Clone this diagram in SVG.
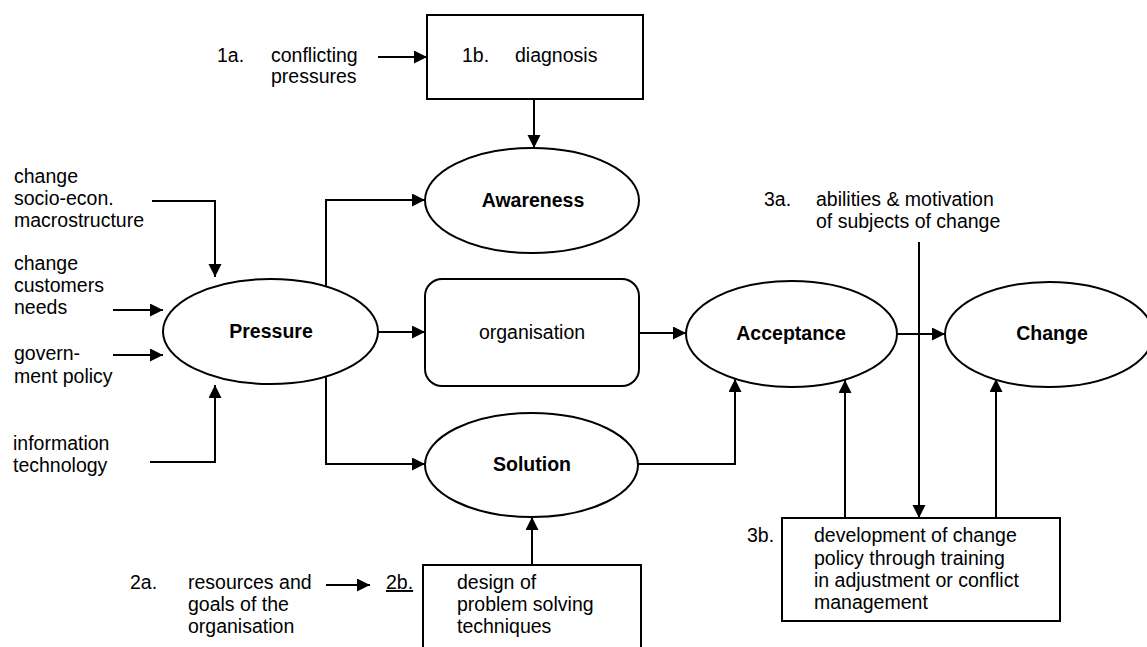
<svg xmlns="http://www.w3.org/2000/svg" width="1147" height="647" viewBox="0 0 1147 647">
  <style>
    text { font-family: "Liberation Sans", Arial, Helvetica, sans-serif; font-size: 19.5px; fill: #000; }
    .b { font-weight: bold; }
    .m { text-anchor: middle; }
    .shape { fill: #fff; stroke: #000; stroke-width: 2; }
    .conn { fill: none; stroke: #000; stroke-width: 2; }
    .arr { marker-end: url(#ah); }
  </style>
  <defs>
    <marker id="ah" markerUnits="userSpaceOnUse" markerWidth="14" markerHeight="14" refX="13" refY="6.5" orient="auto">
      <path d="M0,0 L13,6.5 L0,13 Z" fill="#000"/>
    </marker>
  </defs>
  <rect width="1147" height="647" fill="#fff"/>

  <g id="connectors">
    <line class="conn arr" x1="378" y1="57" x2="427" y2="57"/>
    <line class="conn arr" x1="534" y1="99" x2="534" y2="148"/>
    <polyline class="conn arr" points="152,201 215,201 215,277"/>
    <line class="conn arr" x1="113" y1="310" x2="163" y2="310"/>
    <line class="conn arr" x1="113" y1="355" x2="163" y2="355"/>
    <polyline class="conn arr" points="150,462 215,462 215,385"/>
    <polyline class="conn arr" points="326,286 326,200 425,200"/>
    <line class="conn arr" x1="378" y1="332" x2="425" y2="332"/>
    <polyline class="conn arr" points="326,377 326,464 425,464"/>
    <line class="conn arr" x1="639" y1="333" x2="686" y2="333"/>
    <polyline class="conn arr" points="638,464 735,464 735,379"/>
    <line class="conn arr" x1="897" y1="334" x2="945" y2="334"/>
    <line class="conn arr" x1="919" y1="242" x2="919" y2="518"/>
    <line class="conn arr" x1="845" y1="518" x2="845" y2="380"/>
    <line class="conn arr" x1="996" y1="518" x2="996" y2="379"/>
    <line class="conn arr" x1="532" y1="565" x2="532" y2="517"/>
    <line class="conn arr" x1="326" y1="585" x2="370" y2="585"/>
  </g>

  <g id="label-1a">
    <text x="217" y="62">1a.</text>
    <text x="271" y="62">conflicting</text>
    <text x="271" y="83">pressures</text>
  </g>

  <g id="node-diagnosis">
    <rect class="shape" x="427" y="15" width="216" height="84"/>
    <text x="462" y="62">1b.</text>
    <text x="515" y="62">diagnosis</text>
  </g>

  <g id="label-socio">
    <text x="14" y="183">change</text>
    <text x="14" y="205">socio-econ.</text>
    <text x="14" y="227">macrostructure</text>
  </g>
  <g id="label-customers">
    <text x="14" y="270">change</text>
    <text x="14" y="292">customers</text>
    <text x="14" y="314">needs</text>
  </g>
  <g id="label-government">
    <text x="14" y="360">govern-</text>
    <text x="14" y="383">ment policy</text>
  </g>
  <g id="label-it">
    <text x="13" y="450">information</text>
    <text x="13" y="472">technology</text>
  </g>

  <g id="node-pressure">
    <ellipse class="shape" cx="270.5" cy="331.5" rx="107.5" ry="52.5"/>
    <text class="b m" x="271" y="338">Pressure</text>
  </g>

  <g id="node-awareness">
    <ellipse class="shape" cx="532" cy="200.5" rx="107" ry="52.5"/>
    <text class="b m" x="533" y="207">Awareness</text>
  </g>

  <g id="node-organisation">
    <rect class="shape" x="425" y="279" width="214" height="107" rx="17" ry="17"/>
    <text class="m" x="532" y="339">organisation</text>
  </g>

  <g id="node-solution">
    <ellipse class="shape" cx="531.5" cy="465" rx="106.5" ry="52"/>
    <text class="b m" x="532" y="471">Solution</text>
  </g>

  <g id="node-acceptance">
    <ellipse class="shape" cx="791.5" cy="334" rx="105.5" ry="53"/>
    <text class="b m" x="791" y="340">Acceptance</text>
  </g>

  <g id="node-change">
    <ellipse class="shape" cx="1049" cy="334.5" rx="104" ry="52.5"/>
    <text class="b m" x="1052" y="340">Change</text>
  </g>

  <g id="label-3a">
    <text x="764" y="206">3a.</text>
    <text x="816" y="206">abilities &amp; motivation</text>
    <text x="816" y="228">of subjects of change</text>
  </g>

  <g id="node-policy">
    <rect class="shape" x="782" y="518" width="278" height="103"/>
    <text x="747" y="542">3b.</text>
    <text x="814" y="542">development of change</text>
    <text x="814" y="565">policy through training</text>
    <text x="814" y="587">in adjustment or conflict</text>
    <text x="814" y="609">management</text>
  </g>

  <g id="label-2a">
    <text x="130" y="589">2a.</text>
    <text x="188" y="589">resources and</text>
    <text x="188" y="611">goals of the</text>
    <text x="188" y="633">organisation</text>
  </g>

  <g id="node-design">
    <text x="386" y="589" text-decoration="underline">2b.</text>
    <path class="shape" d="M423,660 L423,565 L641,565 L641,660"/>
    <text x="457" y="589">design of</text>
    <text x="457" y="611">problem solving</text>
    <text x="457" y="633">techniques</text>
  </g>
</svg>
